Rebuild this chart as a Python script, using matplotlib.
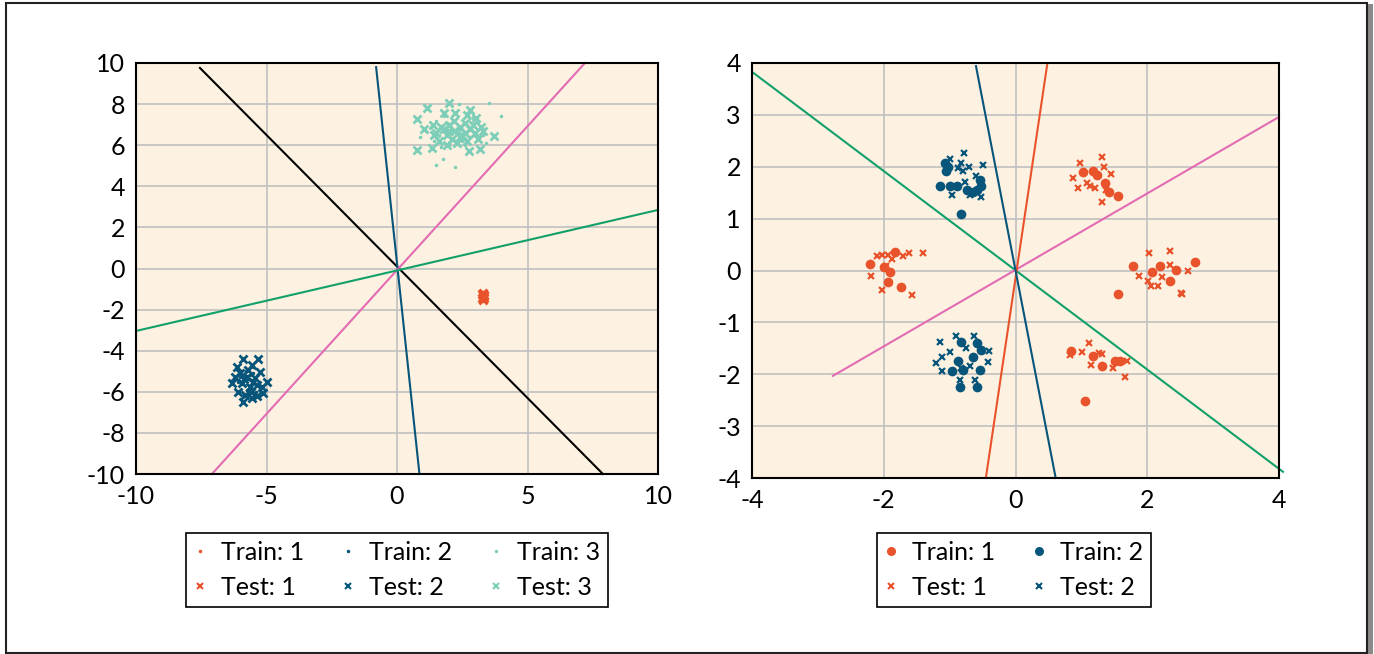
import numpy as np
import matplotlib.pyplot as plt
from matplotlib.patches import Rectangle

# cores
laranja = '#E9532B'
azul = '#07557A'
verde_agua = '#7DCEB8'
verde = '#12A06A'
rosa = '#E36BB3'
fundo = '#FDF2E1'

# ---------------- DADOS: GRAFICO ESQUERDO ----------------
treino1_x = [3.30, 3.28, 3.33, 3.31, 3.27, 3.32, 3.29, 3.34, 3.30, 3.28, 3.31, 3.33]
treino1_y = [-1.15, -1.20, -1.25, -1.30, -1.35, -1.40, -1.45, -1.50, -1.55, -1.28, -1.38, -1.22]
teste1_x = [3.30, 3.27, 3.33, 3.29, 3.32, 3.28, 3.31, 3.30, 3.34, 3.27]
teste1_y = [-1.18, -1.24, -1.30, -1.36, -1.42, -1.48, -1.52, -1.27, -1.33, -1.45]

treino2_x = [-5.7, -5.5, -5.9, -5.6, -5.3, -5.8, -6.0, -5.4, -5.65, -5.75, -5.2, -6.1, -5.5, -5.85, -5.6]
treino2_y = [-5.4, -5.1, -5.6, -5.8, -5.5, -5.0, -5.3, -6.0, -5.2, -5.9, -5.7, -5.5, -4.8, -6.2, -5.45]
teste2_x = [-5.89, -5.31, -6.14, -5.57, -5.25, -6.33, -4.99, -6.08, -5.12, -5.89,
            -5.57, -5.38, -5.76, -5.95, -5.63, -5.82, -5.44, -5.70, -6.02, -5.19,
            -5.50, -5.85, -5.60, -5.35, -6.20]
teste2_y = [-4.42, -4.42, -4.78, -4.70, -5.02, -5.56, -5.51, -5.99, -6.08, -6.48,
            -6.32, -5.67, -5.26, -5.59, -5.75, -6.16, -5.35, -4.94, -5.10, -5.75,
            -5.50, -5.40, -6.00, -6.20, -5.30]

treino3_x = [2.38, 3.52, 3.98, 1.76, 1.49, 2.22, 1.3, 1.6, 1.9, 2.1, 2.4, 2.7, 3.0, 3.2, 1.4,
             1.8, 2.0, 2.5, 2.9, 3.3, 1.1, 2.6, 2.2, 1.7, 3.1, 0.9, 2.8, 1.5, 2.3, 3.4]
treino3_y = [8.0, 8.05, 7.42, 5.33, 5.04, 4.94, 6.9, 6.5, 7.1, 6.3, 6.8, 7.0, 6.6, 6.9, 6.2,
             7.4, 6.0, 6.2, 7.3, 6.5, 6.7, 6.0, 7.5, 5.9, 7.1, 6.4, 6.4, 7.2, 6.6, 6.1]
teste3_x = [1.16, 2.00, 0.75, 1.81, 2.23, 2.80, 2.69, 3.03, 1.05, 1.39, 3.72, 0.78, 1.35, 2.76, 3.18,
            1.5, 1.7, 1.9, 2.0, 2.2, 2.4, 2.5, 2.6, 2.8, 3.0, 3.2, 1.6, 2.1, 2.3, 2.7,
            2.9, 3.1, 1.8, 2.4, 2.0, 2.6, 1.4, 3.3, 2.2, 1.9]
teste3_y = [7.83, 8.04, 7.26, 7.58, 7.55, 7.71, 7.47, 7.31, 6.77, 6.98, 6.45, 5.77, 5.88, 5.73, 5.83,
            6.6, 6.9, 6.5, 7.0, 6.7, 6.9, 6.5, 7.1, 6.8, 6.6, 6.9, 6.2, 6.3, 6.1, 6.2,
            7.0, 6.3, 6.8, 6.4, 6.7, 6.6, 6.5, 6.7, 7.2, 6.0]

# retas do grafico esquerdo: cor -> ([x inicial, x final], [y inicial, y final])
retas_esq = {
    '#000000': ([-7.55, 7.89], [9.76, -10.0]),
    azul: ([-0.80, 0.86], [9.80, -10.0]),
    rosa: ([-7.09, 7.20], [-10.0, 10.0]),
    verde: ([-10.0, 10.0], [-3.04, 2.85]),
}

# ---------------- DADOS: GRAFICO DIREITO ----------------
d_treino1_x = [1.03, 1.18, 1.23, 1.36, 1.42, 1.56,
               1.78, 2.07, 2.19, 2.43, 2.34, 1.55, 2.72,
               -2.21, -2.00, -1.91, -1.83, -1.94, -1.74,
               0.85, 1.18, 1.32, 1.51, 1.58, 1.06]
d_treino1_y = [1.89, 1.92, 1.84, 1.69, 1.52, 1.44,
               0.08, -0.03, 0.08, 0.01, -0.21, -0.46, 0.17,
               0.13, 0.06, -0.03, 0.35, -0.23, -0.31,
               -1.56, -1.65, -1.84, -1.74, -1.74, -2.51]
d_teste1_x = [0.98, 1.31, 1.34, 1.45, 0.87, 0.95, 1.08, 1.21, 1.13, 1.31, 1.38,
              2.03, 2.34, 2.35, 1.87, 2.01, 2.16, 2.05, 2.23, 2.52, 2.62, 2.51,
              -2.11, -2.03, -1.94, -1.88, -1.71, -1.62, -1.40, -2.19, -2.03, -1.57, -1.97,
              1.12, 0.83, 1.01, 1.27, 1.14, 1.48, 1.69, 1.66, 1.31]
d_teste1_y = [2.07, 2.18, 2.00, 1.86, 1.79, 1.59, 1.68, 1.59, 1.62, 1.33, 1.55,
              0.33, 0.38, 0.11, -0.10, -0.21, -0.29, -0.29, -0.13, -0.46, 0.00, -0.43,
              0.27, 0.30, 0.30, 0.22, 0.28, 0.33, 0.33, -0.10, -0.37, -0.48, 0.09,
              -1.39, -1.63, -1.58, -1.59, -1.83, -1.88, -1.74, -2.06, -1.61]
d_treino2_x = [-1.07, -1.05, -1.15, -1.00, -0.89, -0.83, -0.54, -0.52, -0.59, -0.74, -0.64, -1.02,
               -0.83, -0.59, -0.64, -0.87, -0.96, -0.54, -0.84, -0.59, -0.52, -0.79]
d_treino2_y = [2.08, 1.91, 1.63, 1.63, 1.63, 1.08, 1.75, 1.62, 1.55, 1.55, 1.52, 2.00,
               -1.37, -1.40, -1.66, -1.74, -1.94, -1.92, -2.25, -2.24, -1.53, -1.92]
d_teste2_x = [-0.78, -1.00, -0.82, -0.70, -0.49, -0.79, -0.77, -0.60, -0.97, -0.69, -0.52, -0.87,
              -1.14, -0.90, -0.63, -1.00, -1.12, -1.21, -1.12, -0.40, -0.41, -0.75, -0.84, -0.62,
              -0.69, -0.82]
d_teste2_y = [2.26, 2.15, 2.07, 2.00, 2.03, 1.91, 1.71, 1.82, 1.46, 1.46, 1.41, 1.97,
              -1.37, -1.27, -1.26, -1.58, -1.66, -1.79, -1.93, -1.56, -1.76, -1.50, -2.11, -2.12,
              -1.85, -1.88]

retas_dir = {
    verde: ([-4.0, 4.06], [3.83, -3.88]),
    rosa: ([-2.77, 4.0], [-2.03, 2.96]),
    laranja: ([-0.45, 0.48], [-4.0, 3.96]),
    azul: ([-0.60, 0.61], [3.94, -4.0]),
}

# ---------------- CONFIGURACAO ----------------
plt.rcParams['font.family'] = ['Lato', 'DejaVu Sans']
plt.rcParams['font.size'] = 18
plt.rcParams['axes.unicode_minus'] = False

fig = plt.figure(figsize=(13.74, 6.54), dpi=100)

# moldura da pagina com sombra
fig.patches.append(Rectangle((10 / 1374, 0), 1363 / 1374, 650 / 654, transform=fig.transFigure,
                             facecolor='#8a8a8a', edgecolor='none', zorder=-2))
fig.patches.append(Rectangle((6 / 1374, 1 / 654), 1361 / 1374, 650 / 654, transform=fig.transFigure,
                             facecolor='white', edgecolor='#222222', lw=1.5, zorder=-1))

ax1 = fig.add_axes([136 / 1374, 1 - 474 / 654, 522 / 1374, 411 / 654])
ax2 = fig.add_axes([752 / 1374, 1 - 478 / 654, 527 / 1374, 415 / 654])


def prepara_eixo(ax, lim, xt, yt):
    ax.set_facecolor(fundo)
    ax.set_xlim(-lim, lim)
    ax.set_ylim(-lim, lim)
    ax.set_xticks(xt)
    ax.set_yticks(yt)
    ax.grid(True, color='#c0c0c0', lw=1.2)
    ax.set_axisbelow(True)
    ax.tick_params(length=0, pad=8, labelsize=18)
    for s in ax.spines.values():
        s.set_linewidth(1.5)
        s.set_color('black')


def legenda(ax, handles, ncol, xc, tam_marcador):
    leg = ax.legend(handles=handles, ncol=ncol, loc='upper center',
                    bbox_to_anchor=(xc / 1374, 1 - 533 / 654), bbox_transform=fig.transFigure,
                    borderaxespad=0, fancybox=False, edgecolor='black', framealpha=1,
                    handlelength=0.5, handletextpad=0.6, columnspacing=1.5, labelspacing=0.5,
                    borderpad=0.3, fontsize=18)
    leg.get_frame().set_linewidth(1.2)
    # marcadores da legenda menores que no grafico
    for lh, ms in zip(leg.legend_handles, tam_marcador):
        lh.set_markersize(ms)
        if lh.get_marker() == 'x':
            lh.set_markeredgewidth(1.5)
    return leg


prepara_eixo(ax1, 10, [-10, -5, 0, 5, 10], np.arange(-10, 11, 2))
prepara_eixo(ax2, 4, [-4, -2, 0, 2, 4], np.arange(-4, 5, 1))

# GRAFICO ESQUERDO
for cor, (xs, ys) in retas_esq.items():
    ax1.plot(xs, ys, color=cor, lw=1.5, clip_on=False, zorder=2)

h = []
h += ax1.plot(treino1_x, treino1_y, '.', color=laranja, ms=3, label='Train: 1')
h += ax1.plot(teste1_x, teste1_y, 'x', color=laranja, ms=6, mew=2, label='Test: 1')
h += ax1.plot(treino2_x, treino2_y, '.', color=azul, ms=3, label='Train: 2')
h += ax1.plot(teste2_x, teste2_y, 'x', color=azul, ms=6, mew=2, label='Test: 2')
h += ax1.plot(treino3_x, treino3_y, '.', color=verde_agua, ms=3, label='Train: 3')
h += ax1.plot(teste3_x, teste3_y, 'x', color=verde_agua, ms=6, mew=2, label='Test: 3')

legenda(ax1, h, 3, 397, [3, 4, 3, 4, 3, 4])

# GRAFICO DIREITO
for cor, (xs, ys) in retas_dir.items():
    ax2.plot(xs, ys, color=cor, lw=1.5, clip_on=False, zorder=2)

h2 = []
h2 += ax2.plot(d_treino1_x, d_treino1_y, 'o', color=laranja, ms=7, mew=0, label='Train: 1')
h2 += ax2.plot(d_teste1_x, d_teste1_y, 'x', color=laranja, ms=4.5, mew=1.6, label='Test: 1')
h2 += ax2.plot(d_treino2_x, d_treino2_y, 'o', color=azul, ms=7, mew=0, label='Train: 2')
h2 += ax2.plot(d_teste2_x, d_teste2_y, 'x', color=azul, ms=4.5, mew=1.6, label='Test: 2')

legenda(ax2, h2, 2, 1014, [6.5, 4, 6.5, 4])

fig.savefig('out.png', dpi=100)
